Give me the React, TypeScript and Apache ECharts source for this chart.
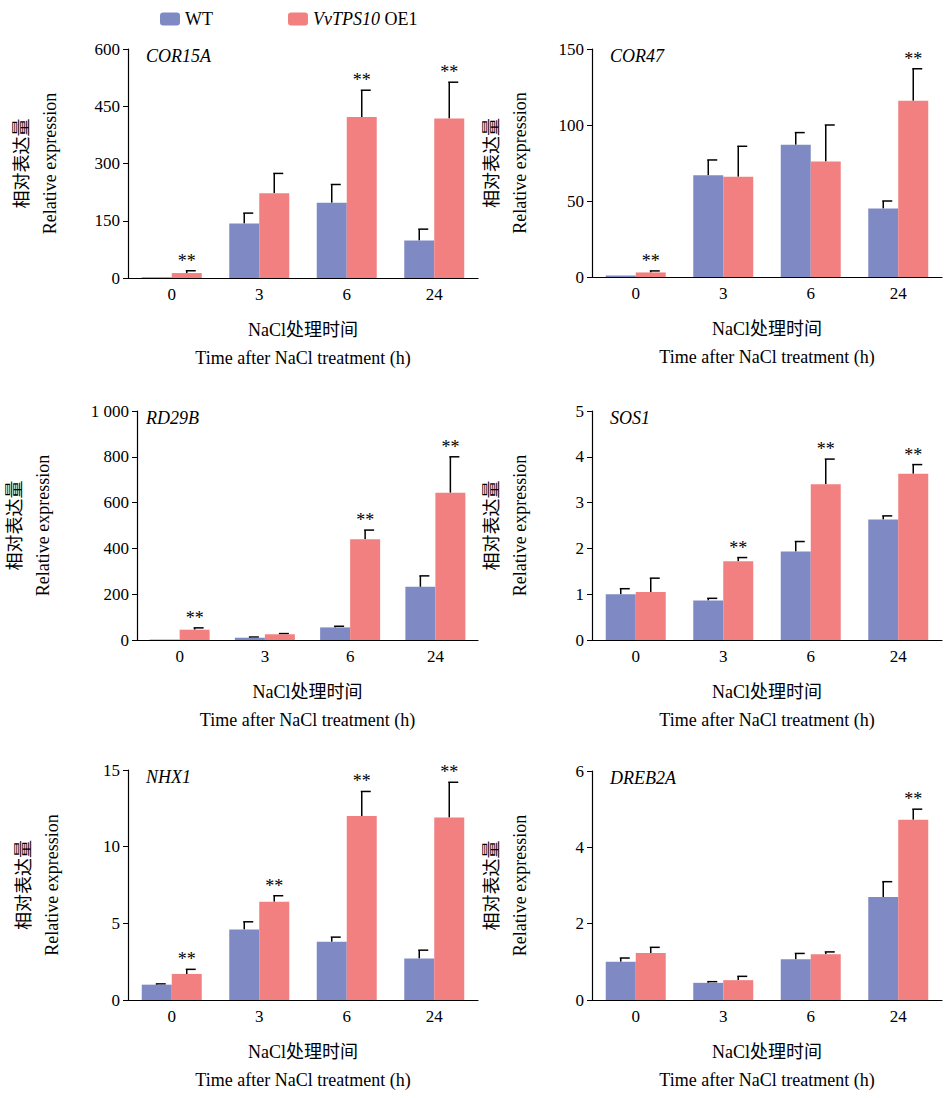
import React from "react";
import * as echarts from "echarts";

const categories = ["0", "3", "6", "24"];
const genes = ["COR15A", "COR47", "RD29B", "SOS1", "NHX1", "DREB2A"];
const yMax = [600, 150, 1000, 5, 15, 6];
const yStep = [150, 50, 200, 1, 5, 2];
const wtValues = [
  [2, 143, 197, 98],
  [1, 67, 87, 45],
  [2, 10, 55, 232],
  [1.0, 0.86, 1.93, 2.63],
  [1.0, 4.6, 3.8, 2.7],
  [1.0, 0.45, 1.07, 2.7],
];
const wtErrors = [
  [0, 27, 48, 30],
  [0, 10, 8, 5],
  [0, 3, 5, 48],
  [0.12, 0.05, 0.22, 0.08],
  [0.05, 0.5, 0.3, 0.55],
  [0.1, 0.03, 0.15, 0.4],
];
const oeValues = [
  [13, 222, 422, 418],
  [3, 66, 76, 116],
  [45, 25, 440, 643],
  [1.05, 1.72, 3.4, 3.63],
  [1.7, 6.4, 12, 11.9],
  [1.23, 0.52, 1.2, 4.72],
];
const oeErrors = [
  [6, 52, 70, 95],
  [1, 20, 24, 21],
  [8, 3, 40, 157],
  [0.3, 0.08, 0.55, 0.2],
  [0.3, 0.4, 1.6, 2.3],
  [0.15, 0.1, 0.06, 0.28],
];
const oeStars = [
  [1, 0, 1, 1],
  [1, 0, 0, 1],
  [1, 0, 1, 1],
  [0, 1, 1, 1],
  [1, 1, 1, 1],
  [0, 0, 0, 1],
];

const BLUE = "#7f8ac4";
const RED = "#f28080";
const FONT = "'Liberation Serif'";
const NAME_FONT = "'Liberation Serif', 'Noto Sans CJK SC', serif";
const BW = 30;

const grids = [
  { left: 128, top: 49, width: 350, height: 229 },
  { left: 592, top: 49, width: 350, height: 228 },
  { left: 128, top: 411, width: 350, height: 229 },
  { left: 592, top: 411, width: 350, height: 229 },
  { left: 128, top: 770, width: 350, height: 230 },
  { left: 592, top: 771, width: 350, height: 229 },
];
const nameGaps = [64, 58, 80, 58, 62, 58];

function errSeries(i: number, vals: number[], errs: number[], stars: number[] | null, offset: number) {
  return {
    type: "custom",
    xAxisIndex: i,
    yAxisIndex: i,
    silent: true,
    data: vals.map((v, k) => [k, v, errs[k], stars ? stars[k] : 0]),
    renderItem: (_p: any, api: any) => {
      const k = api.value(0), v = api.value(1), e = api.value(2), s = api.value(3);
      const base = api.coord([k, v]);
      const top = api.coord([k, v + e]);
      const x = base[0] + offset;
      const children: any[] = [];
      if (e > 0) {
        children.push(
          { type: "line", shape: { x1: x, y1: base[1], x2: x, y2: top[1] }, style: { stroke: "#000", lineWidth: 1.5 } },
          { type: "line", shape: { x1: x - 1, y1: top[1], x2: x + 9, y2: top[1] }, style: { stroke: "#000", lineWidth: 1.5 } }
        );
      }
      if (s) {
        children.push({
          type: "text",
          style: { text: "**", x: x, y: top[1] - 1, align: "center", verticalAlign: "bottom", font: `18px ${FONT}`, fill: "#000" },
        });
      }
      return { type: "group", children };
    },
  };
}

export default function App() {
  const ref = React.useRef<HTMLDivElement>(null);

  React.useEffect(() => {
    if (!ref.current) return;
    document.body.style.margin = "0";
    const c = echarts.init(ref.current, undefined, { renderer: "svg" });
    const axisCommon = {
      axisLine: { show: true, lineStyle: { color: "#000", width: 1.2 } },
      axisTick: { show: true, lineStyle: { color: "#000" }, length: 5 },
      axisLabel: { color: "#000", fontFamily: FONT, fontSize: 17 },
      splitLine: { show: false },
    };
    const series: any[] = [];
    genes.forEach((_g, i) => {
      series.push(
        { name: "WT", type: "bar", xAxisIndex: i, yAxisIndex: i, data: wtValues[i], barWidth: BW, barGap: "0%", itemStyle: { color: BLUE } },
        { name: "OE", type: "bar", xAxisIndex: i, yAxisIndex: i, data: oeValues[i], barWidth: BW, barGap: "0%", itemStyle: { color: RED } },
        errSeries(i, wtValues[i], wtErrors[i], null, -BW / 2),
        errSeries(i, oeValues[i], oeErrors[i], oeStars[i], BW / 2)
      );
    });
    c.setOption({
      animation: false,
      textStyle: { fontFamily: FONT },
      legend: {
        left: 155,
        top: 5,
        itemWidth: 20,
        itemHeight: 13,
        itemGap: 75,
        data: ["WT", "OE"],
        formatter: (n: string) => (n === "OE" ? "{i|VvTPS10} OE1" : "WT"),
        textStyle: { fontFamily: FONT, fontSize: 18, color: "#000", rich: { i: { fontStyle: "italic", fontFamily: FONT, fontSize: 18 } } },
      },
      grid: grids,
      xAxis: grids.map((_g, i) => ({
        type: "category",
        gridIndex: i,
        data: categories,
        ...axisCommon,
        axisTick: { show: false },
        name: "NaCl处理时间\nTime after NaCl treatment (h)",
        nameLocation: "middle",
        nameGap: 38,
        nameTextStyle: { color: "#000", fontFamily: NAME_FONT, fontSize: 18, lineHeight: 28 },
      })),
      yAxis: grids.map((_g, i) => ({
        type: "value",
        gridIndex: i,
        min: 0,
        max: yMax[i],
        interval: yStep[i],
        ...axisCommon,
        axisLabel: {
          ...axisCommon.axisLabel,
          formatter: (v: number) => (v >= 1000 ? "1 000" : String(v)),
        },
        name: "相对表达量\nRelative expression",
        nameLocation: "middle",
        nameRotate: 90,
        nameGap: nameGaps[i],
        nameTextStyle: { color: "#000", fontFamily: NAME_FONT, fontSize: 18, lineHeight: 28 },
      })),
      graphic: grids.map((g, i) => ({
        type: "text",
        left: g.left + 18,
        top: g.top - 2,
        style: { text: genes[i], font: `italic 18px ${FONT}`, fill: "#000" },
      })),
      series,
    });
    return () => c.dispose();
  }, []);

  return <div ref={ref} style={{ width: 950, height: 1098 }} />;
}
